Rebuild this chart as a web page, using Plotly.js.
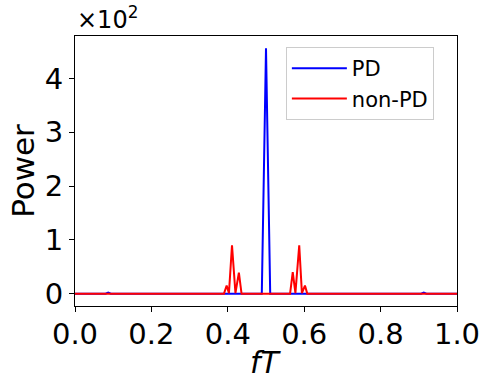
<!DOCTYPE html>
<html>
<head>
<meta charset="utf-8">
<script src="https://cdn.plot.ly/plotly-3.0.1.min.js"></script>
<style>
  body { margin: 0; background: #fff; }
  #power-chart { width: 490px; height: 390px; }
</style>
</head>
<body>
<div id="power-chart"></div>
<script>
// Spectra (fT vs power)
const pdFreq  = [0, 0.080, 0.087, 0.094, 0.489, 0.500, 0.511, 0.906, 0.913, 0.920, 1];
const pdPower = [0, 0, 2, 0, 0, 456, 0, 0, 2, 0, 0];

const nonPdFreq  = [0, 0.390, 0.397, 0.403, 0.411, 0.420, 0.429, 0.436,
                    0.563, 0.570, 0.577, 0.587, 0.594, 0.602, 0.608, 1];
const nonPdPower = [0, 0, 15, 1, 90, 1, 39, 0,
                    0, 40, 1, 90, 1, 15, 0, 0];

const yTickVals = [0, 100, 200, 300, 400];
const yTickText = ['0', '1', '2', '3', '4'];
const xTickVals = [0, 0.2, 0.4, 0.6, 0.8, 1.0];
const xTickText = ['0.0', '0.2', '0.4', '0.6', '0.8', '1.0'];

var font = 'DejaVu Sans, sans-serif';

var traces = [
  {
    x: pdFreq, y: pdPower,
    type: 'scatter', mode: 'lines',
    name: 'PD',
    line: {color: '#0000ff', width: 2}
  },
  {
    x: nonPdFreq, y: nonPdPower,
    type: 'scatter', mode: 'lines',
    name: 'non-PD',
    line: {color: '#ff0000', width: 2}
  }
];

var layout = {
  width: 490,
  height: 390,
  margin: {l: 75, r: 33, t: 36, b: 84},
  paper_bgcolor: 'white',
  plot_bgcolor: 'white',
  font: {family: font, color: 'black'},
  showlegend: true,
  legend: {
    x: 0.552, y: 0.959,
    xanchor: 'left', yanchor: 'top',
    bgcolor: 'rgba(255,255,255,0.8)',
    bordercolor: '#cccccc',
    borderwidth: 1,
    itemwidth: 55,
    tracegroupgap: 0,
    font: {size: 21, family: font}
  },
  xaxis: {
    range: [0, 1],
    tickvals: xTickVals,
    ticktext: xTickText,
    ticks: 'outside', ticklen: 5, tickwidth: 1, tickcolor: 'black',
    ticklabelstandoff: -3,
    tickfont: {size: 29, family: font},
    showline: true, linecolor: 'black', linewidth: 1, mirror: true,
    showgrid: false, zeroline: false
  },
  yaxis: {
    range: [-23, 479],
    tickvals: yTickVals,
    ticktext: yTickText,
    ticks: 'outside', ticklen: 5, tickwidth: 1, tickcolor: 'black',
    tickfont: {size: 29, family: font},
    showline: true, linecolor: 'black', linewidth: 1, mirror: true,
    showgrid: false, zeroline: false,
    title: {text: 'Power', font: {size: 31, family: font}, standoff: 0}
  },
  annotations: [
    {
      xref: 'paper', yref: 'paper',
      x: 0, y: 1, xanchor: 'left', yanchor: 'bottom',
      text: '×10<sup>2</sup>',
      showarrow: false,
      font: {size: 24, family: font}
    },
    {
      // x axis title, placed by hand to sit closer to the tick labels
      xref: 'paper', yref: 'paper',
      x: 0.5, y: -0.21, xanchor: 'center', yanchor: 'middle',
      text: '<i>fT</i>',
      showarrow: false,
      font: {size: 30, family: font}
    }
  ]
};

Plotly.newPlot('power-chart', traces, layout, {displayModeBar: false});
</script>
</body>
</html>
